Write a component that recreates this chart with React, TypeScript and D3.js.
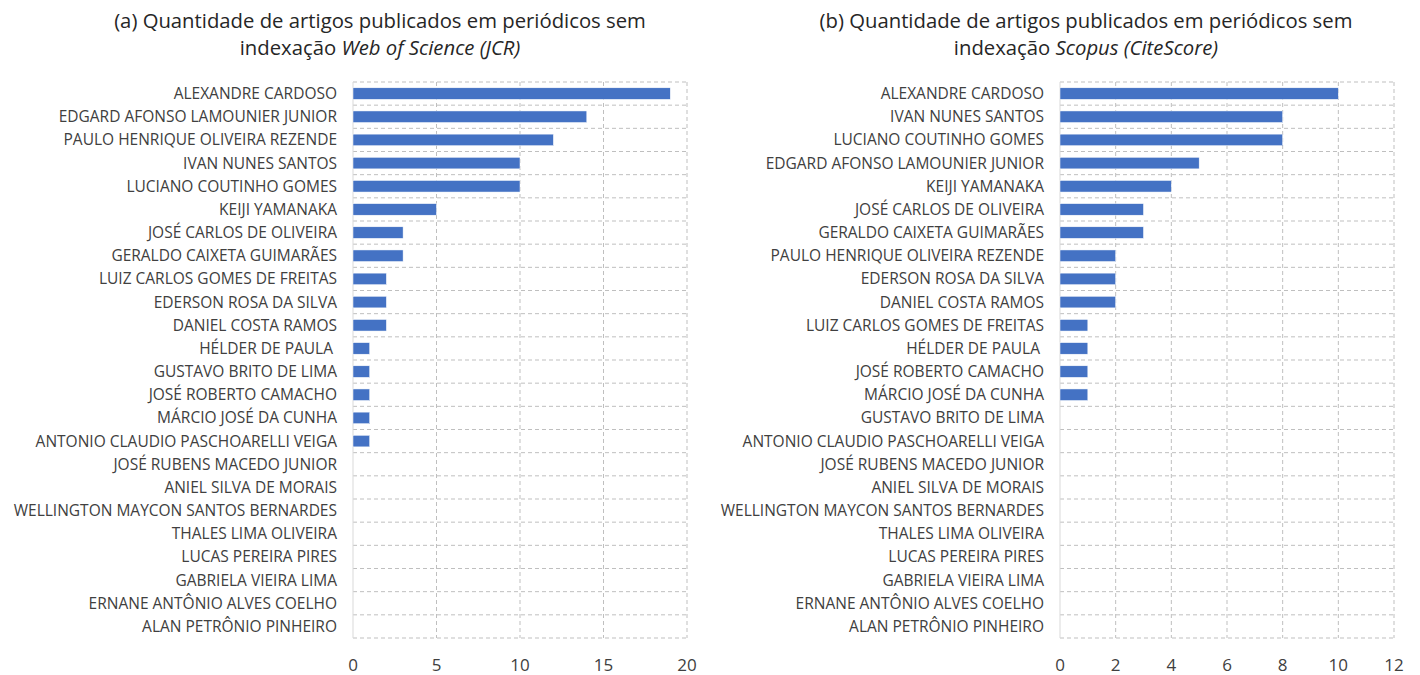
import React, { useEffect, useRef } from "react";
import * as d3 from "d3";

// (a) Web of Science (JCR)
const wosNames = [
  "ALEXANDRE CARDOSO",
  "EDGARD AFONSO LAMOUNIER JUNIOR",
  "PAULO HENRIQUE OLIVEIRA REZENDE",
  "IVAN NUNES SANTOS",
  "LUCIANO COUTINHO GOMES",
  "KEIJI YAMANAKA",
  "JOSÉ CARLOS DE OLIVEIRA",
  "GERALDO CAIXETA GUIMARÃES",
  "LUIZ CARLOS GOMES DE FREITAS",
  "EDERSON ROSA DA SILVA",
  "DANIEL COSTA RAMOS",
  "HÉLDER DE PAULA ",
  "GUSTAVO BRITO DE LIMA",
  "JOSÉ ROBERTO CAMACHO",
  "MÁRCIO JOSÉ DA CUNHA",
  "ANTONIO CLAUDIO PASCHOARELLI VEIGA",
  "JOSÉ RUBENS MACEDO JUNIOR",
  "ANIEL SILVA DE MORAIS",
  "WELLINGTON MAYCON SANTOS BERNARDES",
  "THALES LIMA OLIVEIRA",
  "LUCAS PEREIRA PIRES",
  "GABRIELA VIEIRA LIMA",
  "ERNANE ANTÔNIO ALVES COELHO",
  "ALAN PETRÔNIO PINHEIRO",
];
const wosValues = [19, 14, 12, 10, 10, 5, 3, 3, 2, 2, 2, 1, 1, 1, 1, 1, 0, 0, 0, 0, 0, 0, 0, 0];
const wosTicks = [0, 5, 10, 15, 20];

// (b) Scopus (CiteScore)
const scopusNames = [
  "ALEXANDRE CARDOSO",
  "IVAN NUNES SANTOS",
  "LUCIANO COUTINHO GOMES",
  "EDGARD AFONSO LAMOUNIER JUNIOR",
  "KEIJI YAMANAKA",
  "JOSÉ CARLOS DE OLIVEIRA",
  "GERALDO CAIXETA GUIMARÃES",
  "PAULO HENRIQUE OLIVEIRA REZENDE",
  "EDERSON ROSA DA SILVA",
  "DANIEL COSTA RAMOS",
  "LUIZ CARLOS GOMES DE FREITAS",
  "HÉLDER DE PAULA ",
  "JOSÉ ROBERTO CAMACHO",
  "MÁRCIO JOSÉ DA CUNHA",
  "GUSTAVO BRITO DE LIMA",
  "ANTONIO CLAUDIO PASCHOARELLI VEIGA",
  "JOSÉ RUBENS MACEDO JUNIOR",
  "ANIEL SILVA DE MORAIS",
  "WELLINGTON MAYCON SANTOS BERNARDES",
  "THALES LIMA OLIVEIRA",
  "LUCAS PEREIRA PIRES",
  "GABRIELA VIEIRA LIMA",
  "ERNANE ANTÔNIO ALVES COELHO",
  "ALAN PETRÔNIO PINHEIRO",
];
const scopusValues = [10, 8, 8, 5, 4, 3, 3, 2, 2, 2, 1, 1, 1, 1, 0, 0, 0, 0, 0, 0, 0, 0, 0, 0];
const scopusTicks = [0, 2, 4, 6, 8, 10, 12];

const FONT = "Open Sans, sans-serif";
const BAR = "#4472C4";
const GRID = "#bfbfbf";
const TXT = "#404040";

const top = 82;
const bottom = 638;

const drawPanel = (svg, cfg) => {
  const g = svg.append("g");
  const x = d3.scaleLinear().domain([0, cfg.max]).range([cfg.x0, cfg.x1]);
  const y = d3.scaleBand().domain(cfg.names.map((d, i) => i)).range([top, bottom]).paddingInner(0.5).paddingOuter(0.25);
  const step = y.step();

  // horizontal dashed lines at category boundaries
  const bounds = d3.range(cfg.names.length + 1).map((i) => top + i * step);
  g.selectAll("line.h")
    .data(bounds)
    .join("line")
    .attr("x1", cfg.x0)
    .attr("x2", cfg.x1)
    .attr("y1", (d) => d)
    .attr("y2", (d) => d)
    .attr("stroke", GRID)
    .attr("stroke-width", 1)
    .attr("stroke-dasharray", "4,3");

  // vertical dashed gridlines
  g.selectAll("line.v")
    .data(cfg.ticks.slice(1))
    .join("line")
    .attr("x1", (d) => x(d))
    .attr("x2", (d) => x(d))
    .attr("y1", top)
    .attr("y2", bottom)
    .attr("stroke", GRID)
    .attr("stroke-width", 1)
    .attr("stroke-dasharray", "4,3");

  // axis line
  g.append("line")
    .attr("x1", cfg.x0)
    .attr("x2", cfg.x0)
    .attr("y1", top)
    .attr("y2", bottom)
    .attr("stroke", "#d9d9d9")
    .attr("stroke-width", 1);

  g.selectAll("rect.bar")
    .data(cfg.values)
    .join("rect")
    .attr("x", x(0))
    .attr("y", (d, i) => y(i))
    .attr("width", (d) => x(d) - x(0))
    .attr("height", y.bandwidth())
    .attr("fill", BAR)
    .attr("stroke", "#ffffff")
    .attr("stroke-width", 0.5);

  g.selectAll("text.lab")
    .data(cfg.names)
    .join("text")
    .attr("x", cfg.x0 - 16)
    .attr("y", (d, i) => y(i) + y.bandwidth() / 2)
    .attr("dy", "0.35em")
    .attr("text-anchor", "end")
    .attr("font-family", FONT)
    .attr("font-size", 15.5)
    .attr("fill", TXT)
    .style("white-space", "pre")
    .text((d) => d);

  g.selectAll("text.tick")
    .data(cfg.ticks)
    .join("text")
    .attr("x", (d) => x(d))
    .attr("y", 671)
    .attr("text-anchor", "middle")
    .attr("font-family", FONT)
    .attr("font-size", 17)
    .attr("fill", TXT)
    .text((d) => d);

  const t = g.append("text")
    .attr("text-anchor", "middle")
    .attr("font-family", FONT)
    .attr("font-size", 20.3)
    .attr("fill", "#262626");
  t.append("tspan").attr("x", cfg.titleX).attr("y", 28).text(cfg.title1);
  const t2 = t.append("tspan").attr("x", cfg.titleX).attr("y", 55);
  t2.append("tspan").text("indexação ");
  t2.append("tspan").attr("font-style", "italic").text(cfg.title2);
};

export default function App() {
  const ref = useRef(null);
  useEffect(() => {
    const svg = d3.select(ref.current);
    svg.selectAll("*").remove();
    drawPanel(svg, {
      names: wosNames,
      values: wosValues,
      ticks: wosTicks,
      max: 20,
      x0: 353,
      x1: 687,
      titleX: 380,
      title1: "(a) Quantidade de artigos publicados em periódicos sem",
      title2: "Web of Science (JCR)",
    });
    drawPanel(svg, {
      names: scopusNames,
      values: scopusValues,
      ticks: scopusTicks,
      max: 12,
      x0: 1060,
      x1: 1394,
      titleX: 1086,
      title1: "(b) Quantidade de artigos publicados em periódicos sem",
      title2: "Scopus (CiteScore)",
    });
  }, []);
  return (
    <svg
      ref={ref}
      width={1420}
      height={675}
      style={{ position: "absolute", left: 0, top: 0, background: "#ffffff" }}
    />
  );
}
